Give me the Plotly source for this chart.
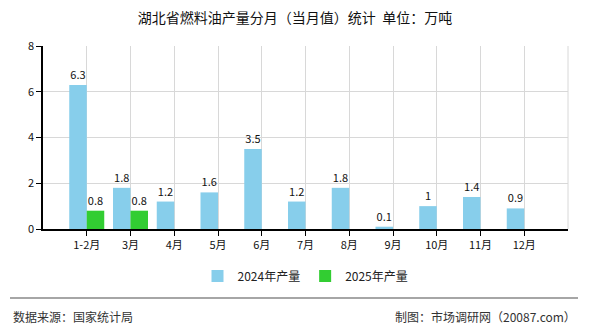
import plotly.graph_objects as go

# Monthly fuel-oil output for Hubei province (10k tonnes)
months = ["1-2月", "3月", "4月", "5月", "6月", "7月", "8月", "9月", "10月", "11月", "12月"]
output_2024 = [6.3, 1.8, 1.2, 1.6, 3.5, 1.2, 1.8, 0.1, 1, 1.4, 0.9]
months_2025 = ["1-2月", "3月"]
output_2025 = [0.8, 0.8]

W, H = 590, 330
L, R, T, B = 43, 22, 46, 101
PW, PH = W - L - R, H - T - B

def py(px):
    return (H - B - px) / PH

def px_(x):
    return (x - L) / PW

label_font = dict(family="Noto Sans CJK SC, DejaVu Sans", size=11, color="#111")

fig = go.Figure()
fig.add_trace(go.Bar(
    x=months, y=output_2024, name="2024年产量",
    marker_color="#87CEEB", marker_line_width=0,
    text=[f"{v:g}" for v in output_2024], textposition="outside",
    textfont=label_font, cliponaxis=False,
))
fig.add_trace(go.Bar(
    x=months_2025, y=output_2025, name="2025年产量",
    marker_color="#32CD32", marker_line_width=0,
    text=[f"{v:g}" for v in output_2025], textposition="outside",
    textfont=label_font, cliponaxis=False,
))

fig.update_layout(
    width=W, height=H,
    margin=dict(l=L, r=R, t=T, b=B),
    paper_bgcolor="white", plot_bgcolor="white",
    barmode="group", bargap=0.2, bargroupgap=0,
    font=dict(family="Noto Sans CJK SC, DejaVu Sans", size=11, color="#222"),
    title=dict(text="湖北省燃料油产量分月（当月值）统计  单位：万吨",
               x=0.5, xanchor="center", y=1 - 18 / H, yanchor="middle",
               font=dict(size=14, color="#111")),
    showlegend=True,
    legend=dict(orientation="h", x=0.5, xanchor="center", y=py(276), yanchor="middle",
                font=dict(size=12, color="#222"), itemwidth=30, traceorder="normal",
                bgcolor="rgba(0,0,0,0)"),
)

fig.update_xaxes(
    type="category", categoryorder="array", categoryarray=months,
    range=[-1, len(months)],
    showline=True, linecolor="#000", linewidth=1.5,
    ticks="outside", ticklen=5, tickcolor="#000",
    showgrid=True, gridcolor="#d8d8d8", gridwidth=1,
    tickfont=dict(size=11, color="#111"),
    zeroline=False, fixedrange=True,
)
fig.update_yaxes(
    range=[0, 8], dtick=2,
    showline=True, linecolor="#000", linewidth=1.5,
    ticks="outside", ticklen=5, tickcolor="#000",
    showgrid=True, gridcolor="#d8d8d8", gridwidth=1,
    tickfont=dict(size=11, color="#111"),
    zeroline=False, fixedrange=True,
)

# right border of the plotting area
fig.add_shape(type="line", xref="paper", yref="paper", x0=1, x1=1, y0=0, y1=1,
              line=dict(color="#d8d8d8", width=1))

# footer separator
fig.add_shape(type="line", xref="paper", yref="paper",
              x0=px_(10), x1=px_(578), y0=py(298), y1=py(298),
              line=dict(color="#888", width=1.5))

fig.add_annotation(text="数据来源：国家统计局", xref="paper", yref="paper",
                   x=px_(11), xanchor="left", y=py(316), yanchor="middle",
                   showarrow=False, font=dict(size=12, color="#333"))
fig.add_annotation(text="制图：市场调研网（20087.com）", xref="paper", yref="paper",
                   x=px_(578), xanchor="right", y=py(316), yanchor="middle",
                   showarrow=False, font=dict(size=12, color="#333"))

fig.write_html("out.html")
